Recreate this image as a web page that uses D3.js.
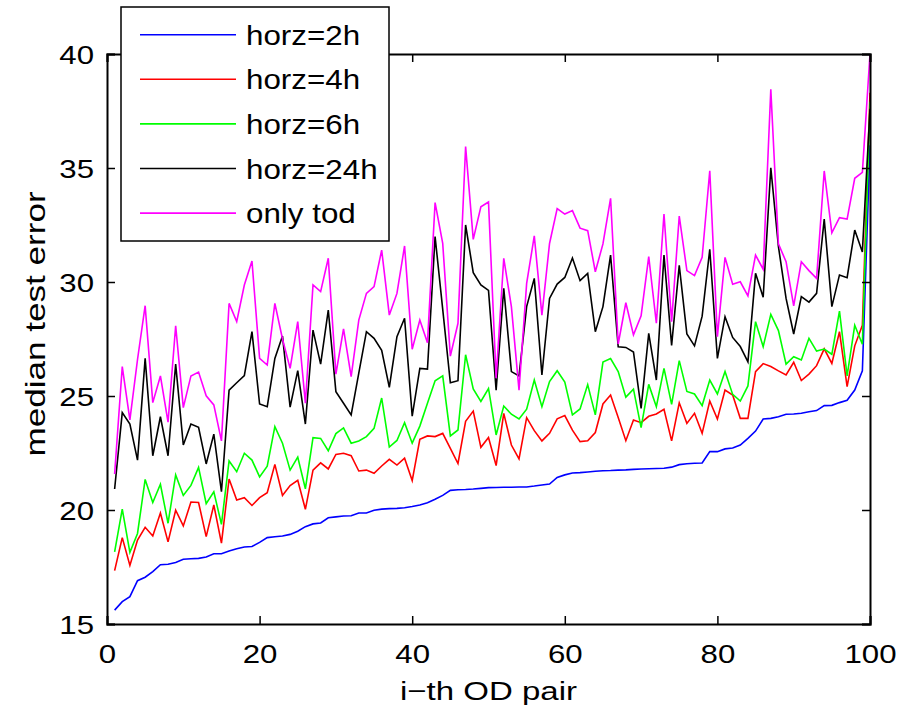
<!DOCTYPE html>
<html><head><meta charset="utf-8">
<script src="https://cdn.jsdelivr.net/npm/d3@7"></script>
<style>body{margin:0;background:#fff}svg{display:block;font-family:"Liberation Sans",Arial,Helvetica,sans-serif}</style>
</head><body>
<svg id="c" width="915" height="708"></svg>
<script>
const xTicks=[0,20,40,60,80,100];
const yTicks=[15,20,25,30,35,40];
const seriesNames=["horz=2h","horz=4h","horz=6h","horz=24h","only tod"];
const seriesColors=["#0000ff","#ff0000","#00ff00","#000000","#ff00ff"];
const horz2=[15.61,15.98,16.2,16.9,17.05,17.3,17.6,17.62,17.7,17.84,17.86,17.88,17.94,18.08,18.08,18.2,18.3,18.38,18.4,18.58,18.79,18.83,18.86,18.93,19.07,19.27,19.39,19.43,19.66,19.7,19.74,19.75,19.87,19.87,19.99,20.04,20.06,20.07,20.1,20.15,20.22,20.32,20.47,20.64,20.86,20.89,20.9,20.92,20.95,20.98,20.99,21.0,21.0,21.01,21.01,21.05,21.1,21.14,21.43,21.54,21.62,21.64,21.67,21.7,21.72,21.73,21.75,21.76,21.78,21.8,21.81,21.82,21.83,21.88,21.99,22.03,22.05,22.06,22.56,22.56,22.68,22.72,22.85,23.14,23.46,23.99,24.02,24.09,24.2,24.21,24.24,24.31,24.36,24.58,24.59,24.71,24.81,25.26,26.1,36.0];
const horz4=[17.34,18.79,17.57,18.68,19.24,18.86,19.87,18.6,19.99,19.3,20.35,20.33,18.83,20.22,18.55,21.36,20.44,20.54,20.2,20.54,20.76,22.0,20.64,21.07,21.3,20.03,21.75,22.07,21.8,22.44,22.49,22.38,21.71,21.75,21.61,21.93,22.22,21.97,22.27,21.29,23.1,23.25,23.22,23.36,22.7,22.04,23.89,24.34,22.75,23.18,21.95,24.24,22.85,22.24,24.05,23.48,23.03,23.36,24.0,24.14,23.5,23.0,23.04,23.4,24.65,25.04,24.06,23.04,23.95,23.83,24.11,24.21,24.42,23.03,24.7,23.8,24.24,23.36,24.78,23.99,25.26,25.04,24.02,24.02,26.07,26.42,26.29,26.1,25.92,26.48,25.68,25.96,26.33,27.07,26.43,27.82,25.41,27.2,28.1,38.3];
const horz6=[18.16,20.04,18.14,18.97,21.34,20.33,21.13,19.42,21.54,20.64,21.08,21.87,20.28,20.8,19.37,22.15,21.68,22.49,22.19,21.45,21.92,23.66,22.93,21.75,22.32,20.93,23.17,23.14,22.6,23.35,23.6,22.93,23.03,23.22,23.58,24.91,22.76,23.05,23.83,22.93,23.68,24.68,25.67,25.88,23.25,23.51,26.81,25.31,24.76,25.33,23.29,24.56,24.2,23.99,24.42,25.7,24.53,25.63,26.11,25.61,24.17,24.43,25.5,24.17,26.49,26.64,26.07,24.95,25.3,23.61,25.51,24.53,26.21,24.63,26.55,25.2,25.09,24.58,25.7,25.09,26.07,25.07,24.78,25.44,28.26,27.16,28.58,27.87,26.4,26.72,26.58,27.53,26.97,27.06,26.83,28.72,25.88,28.1,27.27,37.9];
const horz24=[20.92,24.27,23.77,22.19,26.65,22.38,24.09,22.38,26.4,22.85,23.77,23.63,22.02,23.33,20.8,25.26,25.58,25.89,27.82,24.65,24.53,26.65,27.63,24.51,26.11,23.77,27.89,26.4,28.77,25.19,24.68,24.17,26.0,27.82,27.53,27.0,25.38,27.6,28.41,24.12,26.21,26.18,31.99,28.8,25.58,25.67,32.5,30.41,29.87,29.63,25.26,29.72,26.07,25.88,28.92,30.16,25.92,29.28,29.91,30.2,31.05,30.06,30.38,27.82,28.92,31.18,27.16,27.13,26.93,24.46,27.75,25.7,31.18,27.22,30.73,27.72,27.2,28.5,31.43,26.65,28.48,27.57,27.17,26.5,30.38,29.33,35.01,31.55,29.28,27.72,29.36,29.12,29.5,32.76,28.92,30.31,30.19,32.28,31.32,37.6];
const onlyTod=[21.58,26.29,23.95,26.6,28.96,24.71,25.88,23.85,28.08,24.49,25.88,26.05,25.01,24.61,23.03,29.06,28.26,29.87,30.92,26.65,26.36,29.06,27.5,26.21,28.26,24.68,29.87,29.58,31.04,25.96,27.94,25.85,28.33,29.5,29.8,31.4,28.55,29.5,31.58,27.05,28.33,27.34,33.48,31.69,26.75,28.19,35.94,31.87,33.3,33.51,25.78,31.04,28.92,25.26,29.94,32.02,28.55,31.69,33.22,32.98,33.13,32.36,32.25,30.45,31.67,33.67,27.28,29.09,27.68,28.52,31.11,28.19,32.98,28.26,32.89,30.5,30.28,31.08,34.88,27.6,31.08,29.9,30.01,29.39,31.18,30.56,38.45,31.67,30.89,28.95,30.89,30.5,30.16,34.87,32.16,32.82,32.76,34.55,34.81,40.0];
const allSeries=[horz2,horz4,horz6,horz24,onlyTod];

const svg=d3.select("#c");
const L=107,R=870,T=54,B=624;
const x=d3.scaleLinear().domain([0,100]).range([L,R]);
const y=d3.scaleLinear().domain([15,40]).range([B,T]);
svg.append("clipPath").attr("id","pc").append("rect").attr("x",L).attr("y",T-2).attr("width",R-L+2).attr("height",B-T+4);

const line=d3.line().x((d,i)=>x(i+1)).y(d=>y(d));
const g=svg.append("g").attr("clip-path","url(#pc)");
allSeries.forEach((s,k)=>{
  g.append("path").datum(s).attr("d",line).attr("fill","none")
   .attr("stroke",seriesColors[k]).attr("stroke-width",1.6).attr("stroke-linejoin","miter");
});

const tl=8, tickFs=26, tickSx=1.2;
const axB=svg.append("g").attr("transform",`translate(0,${B})`).call(d3.axisBottom(x).tickValues(xTicks).tickSize(-tl).tickFormat(d3.format("d")));
const axT=svg.append("g").attr("transform",`translate(0,${T})`).call(d3.axisTop(x).tickValues(xTicks).tickSize(-tl).tickFormat(""));
const axL=svg.append("g").attr("transform",`translate(${L},0)`).call(d3.axisLeft(y).tickValues(yTicks).tickSize(-tl).tickFormat(d3.format("d")));
const axR=svg.append("g").attr("transform",`translate(${R},0)`).call(d3.axisRight(y).tickValues(yTicks).tickSize(-tl).tickFormat(""));
[axB,axT,axL,axR].forEach(a=>{
  a.select(".domain").attr("stroke","#000").attr("stroke-width",2);
  a.selectAll(".tick line").attr("stroke","#000").attr("stroke-width",1.5);
  a.selectAll("text").attr("fill","#000").style("font-size",tickFs+"px").style("font-family","'Liberation Sans',Arial,sans-serif");
});
axB.selectAll(".tick text").attr("y",39).attr("dy",0).attr("transform",`scale(${tickSx},1)`);
axL.selectAll(".tick text").attr("x",-13/tickSx).attr("dy","0.36em").attr("transform",`scale(${tickSx},1)`);

svg.append("text").attr("transform",`translate(${(L+R)/2},700) scale(1.27,1)`).attr("text-anchor","middle")
  .style("font-size","26px").text("i\u2212th OD pair");
svg.append("text").attr("transform",`translate(45,324) rotate(-90) scale(1.3,1)`).attr("text-anchor","middle")
  .style("font-size","27px").text("median test error");

const lg=svg.append("g");
lg.append("rect").attr("x",121).attr("y",7).attr("width",268).attr("height",234)
  .attr("fill","#fff").attr("stroke","#000").attr("stroke-width",1.5);
seriesNames.forEach((n,k)=>{
  const cy=34.7+k*44.6;
  lg.append("line").attr("x1",140).attr("x2",236).attr("y1",cy).attr("y2",cy)
    .attr("stroke",seriesColors[k]).attr("stroke-width",1.6);
  lg.append("text").attr("transform",`translate(246,${cy+10}) scale(1.12,1)`).style("font-size","28px").text(n);
});
</script>
</body></html>
